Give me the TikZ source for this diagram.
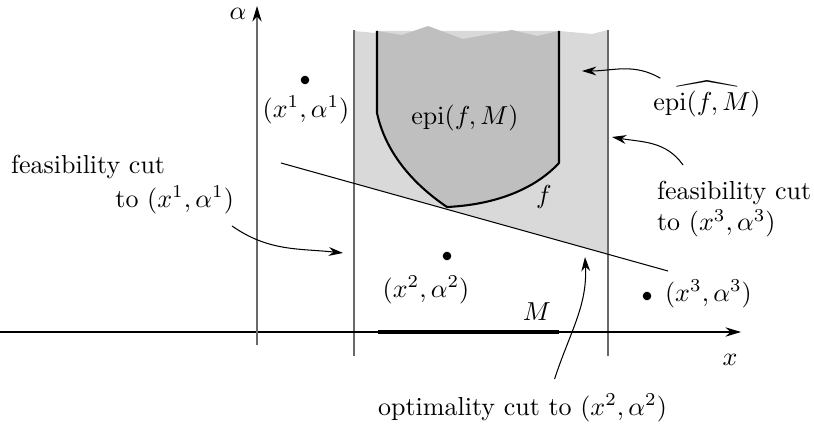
\documentclass[tikz,border=0pt]{standalone}
\usepackage{amsmath,amssymb}
\usetikzlibrary{arrows.meta, positioning, calc}
\definecolor{epilight}{RGB}{217,217,217}
\definecolor{epidark}{RGB}{191,191,191}
\definecolor{rulegray}{RGB}{105,105,105}

\tikzset{
  cutarrow/.style={-{Stealth[length=5.5pt,width=3.4pt]}},
  axisarrow/.style={-{Stealth[length=6pt,width=3.6pt,black]}},
  ptdot/.style={circle, fill, inner sep=0pt, minimum size=3.3pt},
  lbl/.style={inner sep=1pt},
}

\begin{document}
\begin{tikzpicture}[x=0.01352cm, y=-0.01352cm]
  \useasboundingbox (0,0) rectangle (814,426);

  % 区域 M 上的带状区域
  \fill[epilight] (354,183.4) -- (354,31) -- (375,33) -- (377,31) -- (559,31)
    -- (592,34) -- (608,30) -- (608,254.3) -- cycle;

  % epi(f,M)
  \fill[epidark] (377,31) -- (377,113) .. controls (385,150) and (410,182) .. (447,207)
    .. controls (490,205) and (532,192) .. (559,163) -- (559,31)
    -- (537,36) -- (512,30) -- (463,39) -- (428,26) -- (402,35) -- cycle;
  \draw[thick] (377,31) -- (377,113) .. controls (385,150) and (410,182) .. (447,207)
    .. controls (490,205) and (532,192) .. (559,163) -- (559,31);

  % 竖线
  \draw[rulegray, line width=0.5pt] (354,30) -- (354,356);
  \draw[rulegray, line width=0.5pt] (608,30) -- (608,356);

  % 坐标轴
  \coordinate (xfrom) at (0,332);
  \coordinate (xto) at (741,332);
  \coordinate (afrom) at (257,345);
  \coordinate (ato) at (257,6);
  \draw[axisarrow] (xfrom) -- (xto);
  \draw[rulegray, axisarrow] (afrom) -- (ato);
  \node[lbl] (xlab) at (730,360) {$x$};
  \node[lbl] (alab) at (238,14) {$\alpha$};

  % M
  \draw[line width=1.8pt] (378,332) -- (559,332);
  \node[lbl] (mlab) at (537,312) {$M$};

  % 割平面
  \coordinate (cutL) at (281,163);
  \coordinate (cutR) at (668,271);
  \draw (cutL) -- (cutR);

  % 标注
  \node[lbl] (epilab) at (465,118) {$\mathrm{epi}(f,M)$};
  \node[lbl] (flab) at (544,197) {$f$};
  \node[lbl] (hatlab) at (707,99) {$\widehat{\mathrm{epi}(f,M)}$};

  % 点
  \node[ptdot] (p1) at (305,80) {};
  \node[lbl] (p1lab) at (306,110) {$(x^1,\alpha^1)$};
  \node[ptdot] (p2) at (447,256) {};
  \node[lbl] (p2lab) at (426,290) {$(x^2,\alpha^2)$};
  \node[ptdot] (p3) at (647,296) {};
  \node[lbl, anchor=west] (p3lab) at (662,294) {$(x^3,\alpha^3)$};

  % 文字说明
  \node[lbl, anchor=west] (feasA1) at (8,167) {feasibility cut};
  \node[lbl, anchor=east] (feasA2) at (237,200) {to $(x^1,\alpha^1)$};
  \node[lbl, anchor=north west, align=left] (feasB) at (654,178)
    {feasibility cut\\to $(x^3,\alpha^3)$};
  \node[lbl, anchor=west] (optlab) at (375,408) {optimality cut to $(x^2,\alpha^2)$};

  % 箭头
  \coordinate (tipA) at (343,253);
  \coordinate (tipB) at (612,137);
  \coordinate (tipH) at (582,71);
  \coordinate (tipO) at (585,257);
  \draw[cutarrow] ($(feasA2.south east)+(-5,9)$) to[out=-35, in=174] (tipA);
  \draw[cutarrow] ($(feasB.north west)+(29,-13)$) to[out=125, in=-10] (tipB);
  \draw[cutarrow] ($(hatlab.north west)+(10,0)$) to[out=150, in=0] (tipH);
  \draw[cutarrow] ($(optlab.north)+(32,-12)$) to[out=72, in=-87] (tipO);
\end{tikzpicture}
\end{document}
